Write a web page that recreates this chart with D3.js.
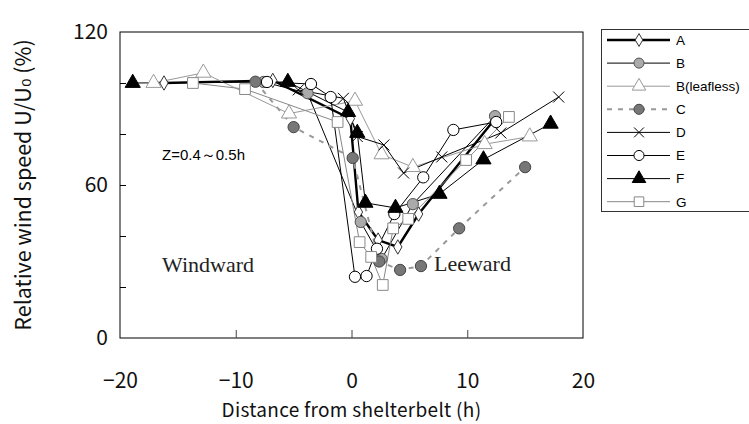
<!DOCTYPE html>
<html>
<head>
<meta charset="utf-8">
<script src="https://cdn.jsdelivr.net/npm/d3@7"></script>
<style>
  body { margin: 0; background: #fff; }
  svg { display: block; }
</style>
</head>
<body>
<div id="chart-area"></div>
<script>
const width = 749, height = 424;
const margin = ({top: 32, right: 167, bottom: 86, left: 120});

// Data: [distance (h), relative wind speed (%)]
const seriesA = [[-16.2, 100], [-6.8, 101], [-0.1, 86], [0.6, 49.4], [2.3, 38.4], [4.0, 35.7], [5.8, 48.6], [12.4, 86]];
const seriesB = [[-7.6, 100.4], [-3.8, 96], [0.8, 45.5], [2.6, 31], [5.3, 52.5], [12.4, 87]];
const seriesBLeafless = [[-17.1, 100], [-12.8, 104], [-5.4, 88], [0.3, 93], [2.6, 72], [5.3, 67], [11.5, 76], [15.4, 79]];
const seriesC = [[-8.3, 100.5], [-5.0, 82.7], [0.1, 70.6], [2.4, 30], [4.2, 26.7], [6.0, 28.2], [9.3, 43], [15.0, 67]];
const seriesD = [[-4.6, 97.3], [-0.7, 94], [0.5, 79], [2.8, 75.7], [4.5, 64.7], [7.8, 71], [12.9, 80.4], [17.9, 94.5]];
const seriesE = [[-7.3, 100.4], [-3.5, 99.6], [-1.8, 94.5], [0.3, 24], [1.3, 24.3], [2.2, 35], [3.7, 48.6], [6.2, 63], [8.8, 81.6], [12.5, 84.7]];
const seriesF = [[-18.9, 100], [-5.5, 100.4], [-0.3, 88.6], [0.5, 80.4], [1.2, 53], [3.8, 51], [7.6, 56.5], [11.4, 70], [17.2, 84]];
const seriesG = [[-13.7, 100], [-9.2, 97.6], [-1.2, 84.7], [0.7, 37.6], [1.7, 31.8], [2.7, 20.8], [3.6, 43], [4.9, 46.7], [9.9, 69.8], [13.6, 86.7]];

const xTicks = [-20, -10, 0, 10, 20];
const yTicks = [0, 20, 40, 60, 80, 100, 120];
const yTickLabels = [0, 60, 120];

const series = [
    {name: "A", values: seriesA, symbol: "diamond", line: "#000", width: 2.4, dash: null, fill: "#fff", stroke: "#333"},
    {name: "B", values: seriesB, symbol: "circle", line: "#000", width: 1, dash: null, fill: "#aaa", stroke: "#555"},
    {name: "B(leafless)", values: seriesBLeafless, symbol: "triangle", line: "#999", width: 1, dash: null, fill: "#fff", stroke: "#999"},
    {name: "C", values: seriesC, symbol: "circle", line: "#999", width: 2, dash: "5,6", fill: "#777", stroke: "#444"},
    {name: "D", values: seriesD, symbol: "cross", line: "#000", width: 1, dash: null, fill: "none", stroke: "#000"},
    {name: "E", values: seriesE, symbol: "circle", line: "#000", width: 1, dash: null, fill: "#fff", stroke: "#000"},
    {name: "F", values: seriesF, symbol: "triangle", line: "#000", width: 1, dash: null, fill: "#000", stroke: "#000"},
    {name: "G", values: seriesG, symbol: "square", line: "#888", width: 1, dash: null, fill: "#fff", stroke: "#888"}
];

const x = d3.scaleLinear()
    .domain([-20, 20])
    .range([margin.left, width - margin.right + 1]);

const y = d3.scaleLinear()
    .domain([0, 120])
    .range([height - margin.bottom, margin.top]);

const line = d3.line()
    .x(d => x(d[0]))
    .y(d => y(d[1]));

// marker path generator, centred at 0,0
function marker(kind, scale = 1) {
    if (kind === "cross") {
        const r = 5.5 * Math.sqrt(scale);
        return `M${-r},${-r}L${r},${r}M${-r},${r}L${r},${-r}`;
    }
    const sizes = {diamond: 60, circle: 100, triangle: 100, square: 115};
    const types = {diamond: d3.symbolDiamond, circle: d3.symbolCircle, triangle: d3.symbolTriangle, square: d3.symbolSquare};
    return d3.symbol().type(types[kind]).size(sizes[kind] * scale)();
}

const svg = d3.select("#chart-area").append("svg")
    .attr("width", width)
    .attr("height", height);

const tickFont = "'Noto Sans CJK JP', 'DejaVu Sans', sans-serif";

// frame
svg.append("rect")
    .attr("x", x(-20))
    .attr("y", y(120))
    .attr("width", x(20) - x(-20))
    .attr("height", y(0) - y(120))
    .attr("fill", "none")
    .attr("stroke", "#000")
    .attr("stroke-width", 1);

// axes with inward ticks
const xAxis = g => g
    .attr("transform", `translate(0,${y(0)})`)
    .call(d3.axisBottom(x).tickValues(xTicks).tickSize(-8).tickPadding(37).tickFormat(d => d < 0 ? "\u2212" + Math.abs(d) : d))
    .call(g => g.select(".domain").remove())
    .call(g => g.selectAll(".tick line").filter(d => Math.abs(d) === 20).remove())
    .call(g => g.selectAll(".tick line").attr("stroke", "#444"))
    .call(g => g.selectAll("text").attr("font-size", 21).attr("fill", "#111").attr("font-family", tickFont).attr("dy", "0.6em"));

const yAxis = g => g
    .attr("transform", `translate(${x(-20)},0)`)
    .call(d3.axisLeft(y).tickValues(yTicks).tickSize(-6).tickPadding(12)
        .tickFormat(d => yTickLabels.includes(d) ? d : ""))
    .call(g => g.select(".domain").remove())
    .call(g => g.selectAll(".tick line").filter(d => d === 0 || d === 120).remove())
    .call(g => g.selectAll("text").attr("font-size", 21).attr("fill", "#111").attr("font-family", tickFont));

svg.append("g").call(xAxis);
svg.append("g").call(yAxis);

// axis titles
svg.append("text")
    .attr("x", x(0))
    .attr("y", 417)
    .attr("text-anchor", "middle")
    .attr("font-family", tickFont)
    .attr("font-size", 19)
    .attr("letter-spacing", 0.3)
    .attr("fill", "#111")
    .text("Distance from shelterbelt (h)");

svg.append("text")
    .attr("transform", `translate(31,${y(60)}) rotate(-90)`)
    .attr("text-anchor", "middle")
    .attr("font-family", tickFont)
    .attr("font-size", 21.5)
    .attr("fill", "#111")
    .text("Relative wind speed U/U\u2080 (%)");

// annotations
svg.append("text")
    .attr("x", 162).attr("y", 160)
    .attr("font-family", "'Liberation Sans', Arial, sans-serif")
    .attr("font-size", 15)
    .text("Z=0.4\uFF5E0.5h");

svg.append("text")
    .attr("x", 162).attr("y", 272)
    .attr("font-family", "'Liberation Serif', 'DejaVu Serif', serif")
    .attr("font-size", 22)
    .attr("fill", "#222")
    .text("Windward");

svg.append("text")
    .attr("x", 434).attr("y", 271)
    .attr("font-family", "'Liberation Serif', 'DejaVu Serif', serif")
    .attr("font-size", 22)
    .attr("fill", "#222")
    .text("Leeward");

// lines
const plot = svg.append("g");

plot.selectAll("path.series")
    .data(series)
    .enter().append("path")
        .attr("class", "series")
        .attr("fill", "none")
        .attr("stroke", d => d.line)
        .attr("stroke-width", d => d.width)
        .attr("stroke-dasharray", d => d.dash)
        .attr("d", d => line(d.values));

// markers
series.forEach(s => {
    plot.append("g")
        .selectAll("path")
        .data(s.values)
        .enter().append("path")
            .attr("transform", d => `translate(${x(d[0])},${y(d[1])})`)
            .attr("d", marker(s.symbol))
            .attr("fill", s.fill)
            .attr("stroke", s.stroke)
            .attr("stroke-width", 1);
});

// legend
const legend = svg.append("g");
legend.append("rect")
    .attr("x", 601.5).attr("y", 29.5)
    .attr("width", 150).attr("height", 182)
    .attr("fill", "#fff")
    .attr("stroke", "#333");

const row = legend.selectAll("g.row")
    .data(series)
    .enter().append("g")
        .attr("class", "row")
        .attr("transform", (d, i) => `translate(0,${40 + i * 23.1})`);

row.append("line")
    .attr("x1", 607).attr("x2", 670)
    .attr("stroke", d => d.line)
    .attr("stroke-width", d => d.width)
    .attr("stroke-dasharray", d => d.dash);

row.append("path")
    .attr("transform", "translate(639,0)")
    .attr("d", d => marker(d.symbol, 0.8))
    .attr("fill", d => d.fill)
    .attr("stroke", d => d.stroke);

row.append("text")
    .attr("x", 676)
    .attr("dy", "0.36em")
    .attr("font-family", "'Liberation Sans', Arial, sans-serif")
    .attr("font-size", 13.5)
    .text(d => d.name);
</script>
</body>
</html>
